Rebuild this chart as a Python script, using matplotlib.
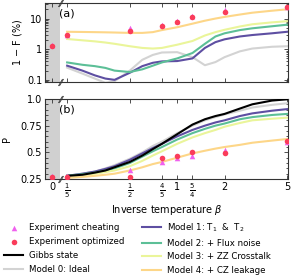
import numpy as np
import matplotlib
matplotlib.use("Agg")
import matplotlib.pyplot as plt
from matplotlib.ticker import FixedLocator, FixedFormatter, MultipleLocator, NullLocator

plt.rcParams['font.family'] = ['DejaVu Sans']
plt.rcParams['font.size'] = 7

# inverse temperatures of the experiment (0 shown on the broken left part)
beta_exp = [0, 1/5, 1/2, 4/5, 1, 5/4, 2, 5]
infid_cheat = [1.4, 3.0, 4.8, 6.3, 8.5, 12.5, 19.0, 24.0]
infid_opt = [1.3, 2.8, 3.9, 5.6, 7.6, 11.0, 16.5, 23.0]
p_cheat = [0.275, 0.275, 0.335, 0.41, 0.445, 0.465, 0.52, 0.60]
p_opt = [0.27, 0.265, 0.27, 0.447, 0.466, 0.50, 0.49, 0.605]

# model curves
beta_m = [0.2, 0.25, 0.3, 0.35, 0.4, 0.5, 0.6, 0.7, 0.8, 1.0, 1.25, 1.5, 1.75, 2, 2.5, 3, 4, 5]
infid_m0 = [0.25, 0.16, 0.11, 0.08, 0.09, 0.2, 0.45, 0.65, 0.78, 0.8, 0.55, 0.3, 0.38, 0.55, 0.85, 1.05, 1.2, 1.25]
infid_m1 = [0.29, 0.2, 0.14, 0.11, 0.1, 0.17, 0.28, 0.36, 0.4, 0.41, 0.5, 1.1, 1.7, 2.1, 2.6, 2.9, 3.3, 3.7]
infid_m2 = [0.37, 0.31, 0.28, 0.245, 0.2, 0.18, 0.22, 0.29, 0.37, 0.5, 0.75, 1.5, 2.6, 3.3, 4.2, 4.8, 5.6, 6.3]
infid_m3 = [2.15, 1.95, 1.8, 1.65, 1.5, 1.25, 1.1, 1.05, 1.1, 1.4, 1.85, 2.8, 3.6, 4.3, 5.5, 6.5, 7.5, 8.2]
infid_m4 = [3.7, 3.65, 3.6, 3.55, 3.5, 3.4, 3.4, 3.6, 4.2, 5.2, 6.8, 8.5, 10.0, 11.3, 13.5, 15.5, 18.0, 20.0]

p_gibbs = [0.28, 0.29, 0.31, 0.33, 0.36, 0.41, 0.47, 0.53, 0.58, 0.67, 0.76, 0.81, 0.84, 0.86, 0.91, 0.95, 0.985, 0.997]
p_m0 = [0.28, 0.30, 0.32, 0.35, 0.38, 0.44, 0.50, 0.56, 0.60, 0.68, 0.75, 0.80, 0.83, 0.855, 0.89, 0.92, 0.945, 0.96]
p_m1 = [0.28, 0.30, 0.32, 0.345, 0.37, 0.43, 0.49, 0.54, 0.58, 0.65, 0.71, 0.75, 0.78, 0.80, 0.84, 0.865, 0.89, 0.905]
p_m2 = [0.28, 0.295, 0.31, 0.33, 0.35, 0.40, 0.46, 0.51, 0.55, 0.62, 0.68, 0.72, 0.75, 0.77, 0.81, 0.83, 0.85, 0.86]
p_m3 = [0.27, 0.285, 0.30, 0.315, 0.33, 0.37, 0.42, 0.47, 0.51, 0.58, 0.64, 0.68, 0.71, 0.74, 0.775, 0.80, 0.815, 0.825]
p_m4 = [0.26, 0.27, 0.28, 0.29, 0.30, 0.33, 0.36, 0.39, 0.41, 0.45, 0.49, 0.515, 0.535, 0.55, 0.57, 0.59, 0.61, 0.625]

xtick_vals = [0, 1/5, 1/2, 4/5, 1, 5/4, 2, 5]
xtick_labels = ['0', r'$\frac{1}{5}$', r'$\frac{1}{2}$', r'$\frac{4}{5}$', '1', r'$\frac{5}{4}$', '2', '5']

# where beta = 0 sits on the log axis, and where the break is
X_ZERO = 0.161
X_BREAK = 0.179
XMIN, XMAX = 0.1447, 5.04

colors = {
    'm0': '#d3d3d3', 'm1': '#5e4fa2', 'm2': '#5cbf97',
    'm3': '#eaf59a', 'm4': '#fdd688',
}
c_cheat = '#f060ee'
c_opt = '#fa3c5a'


def to_x(b):
    return [X_ZERO if v == 0 else v for v in b]


fig = plt.figure(figsize=(2.99, 2.78), dpi=100)
ax1 = fig.add_axes([0.1505, 0.705, 0.812, 0.284])
ax2 = fig.add_axes([0.1505, 0.356, 0.812, 0.288])

lw = 1.5
for ax, curves, gibbs in [(ax1, [infid_m0, infid_m1, infid_m2, infid_m3, infid_m4], None),
                          (ax2, [p_m0, p_m1, p_m2, p_m3, p_m4], p_gibbs)]:
    ax.set_xscale('log')
    ax.axvspan(XMIN, X_BREAK, color='#d0d0d0', lw=0, zorder=0)
    labels = ['Model 0: Ideal', r'Model 1: T$_1$  &  T$_2$', 'Model 2: + Flux noise',
              'Model 3: + ZZ Crosstalk', 'Model 4: + CZ leakage']
    for key, y, lab in zip(['m0', 'm1', 'm2', 'm3', 'm4'], curves, labels):
        ax.plot(beta_m, y, color=colors[key], lw=lw, label=lab, zorder=2)
    if gibbs is not None:
        ax.plot(beta_m, gibbs, color='black', lw=lw, label='Gibbs state', zorder=3)
    ax.set_xlim(XMIN, XMAX)
    ax.xaxis.set_major_locator(FixedLocator(to_x(xtick_vals)))
    ax.xaxis.set_minor_locator(NullLocator())
    ax.tick_params(which='both', direction='in', top=True, right=True, length=3, width=0.6,
                   color='#333333', labelsize=7, pad=2)
    ax.tick_params(which='minor', length=1.8)
    for s in ax.spines.values():
        s.set_linewidth(0.8)
        s.set_color('#333333')
    # break marks
    for yy in (0, 1):
        ax.plot([X_BREAK], [yy], transform=ax.get_xaxis_transform(), marker=[(-0.6, -1), (0.6, 1)],
                ms=5, mew=0.6, color='#333333', clip_on=False, zorder=5, ls='none')
        ax.plot([X_BREAK * 1.025], [yy], transform=ax.get_xaxis_transform(), marker=[(-0.6, -1), (0.6, 1)],
                ms=5, mew=0.6, color='#333333', clip_on=False, zorder=5, ls='none')

ax1.scatter(to_x(beta_exp), infid_cheat, marker='^', s=16, color=c_cheat, lw=0, zorder=6,
            label='Experiment cheating')
ax1.scatter(to_x(beta_exp), infid_opt, marker='o', s=16, color=c_opt, lw=0, zorder=7,
            label='Experiment optimized')
ax2.scatter(to_x(beta_exp), p_cheat, marker='^', s=16, color=c_cheat, lw=0, zorder=6,
            label='Experiment cheating')
ax2.scatter(to_x(beta_exp), p_opt, marker='o', s=16, color=c_opt, lw=0, zorder=7,
            label='Experiment optimized')

ax1.set_yscale('log')
ax1.set_ylim(0.085, 32)
ax1.yaxis.set_major_locator(FixedLocator([0.1, 1, 10]))
ax1.yaxis.set_major_formatter(FixedFormatter(['0.1', '1', '10']))
ax1.set_xticklabels([])
ax1.set_ylabel(r'1 $-$ F (%)', fontsize=7, labelpad=2)
ax1.text(0.058, 0.93, '(a)', transform=ax1.transAxes, fontsize=8, va='top', ha='left')

ax2.set_ylim(0.25, 1.0)
ax2.yaxis.set_major_locator(FixedLocator([0.25, 0.5, 0.75, 1.0]))
ax2.yaxis.set_major_formatter(FixedFormatter(['0.25', '0.5', '0.75', '1.0']))
ax2.yaxis.set_minor_locator(MultipleLocator(0.05))
ax2.xaxis.set_major_formatter(FixedFormatter(xtick_labels))
ax2.set_ylabel('P', fontsize=7, labelpad=6)
ax2.set_xlabel(r'Inverse temperature $\beta$', fontsize=7, labelpad=2)
ax2.text(0.058, 0.93, '(b)', transform=ax2.transAxes, fontsize=8, va='top', ha='left')

h, l = ax2.get_legend_handles_labels()
order = ['Experiment cheating', 'Experiment optimized', 'Gibbs state', 'Model 0: Ideal',
         r'Model 1: T$_1$  &  T$_2$', 'Model 2: + Flux noise', 'Model 3: + ZZ Crosstalk',
         'Model 4: + CZ leakage']
hd = dict(zip(l, h))
fig.legend([hd[k] for k in order], order, ncol=2, loc='lower left', bbox_to_anchor=(0.0, -0.005),
           frameon=False, fontsize=6.2, handlelength=2.2, handletextpad=0.7, columnspacing=2.0,
           labelspacing=0.55, borderaxespad=0.2, borderpad=0.3)

fig.savefig('out.png', dpi=100)
